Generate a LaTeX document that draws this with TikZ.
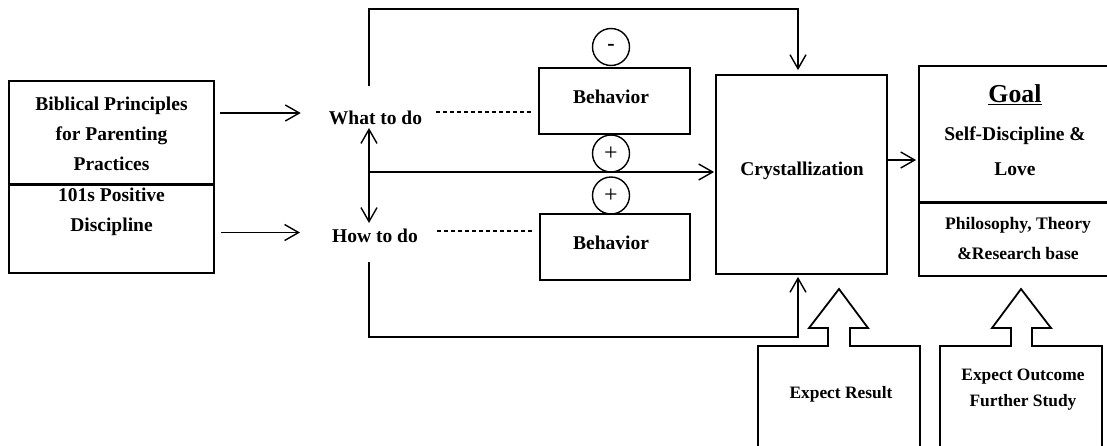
\documentclass[tikz,border=0pt]{standalone}
\usepackage{fontspec}
\setmainfont{Liberation Serif}
\usetikzlibrary{arrows.meta,calc}
\begin{document}
\begin{tikzpicture}[x=1pt,y=-1pt,
  boxline/.style={draw, line width=1.8pt, rectangle, inner sep=0pt},
  outline/.style={line width=1.8pt, line join=miter},
  lbl/.style={font=\bfseries\fontsize{19.5}{30}\selectfont, align=center, inner sep=0pt},
  conn/.style={line width=1.4pt},
  arr/.style={conn, -{Straight Barb[length=14pt,width=16pt,line width=1.4pt]}},
  dblarr/.style={conn, {Straight Barb[length=14pt,width=16pt,line width=1.4pt]}-{Straight Barb[length=14pt,width=16pt,line width=1.4pt]}},
  dashline/.style={line width=1.4pt, dash pattern=on 4pt off 3pt},
  sign/.style={draw, circle, line width=1.4pt, minimum size=37pt, inner sep=0pt}
]
\clip (0,0) rectangle (1107,445);

% source boxes on the left
\node[boxline, minimum width=205pt, minimum height=103pt] (bib) at (111.5,132.5) {};
\node[boxline, minimum width=205pt, minimum height=89pt] (pos) at (111.5,228.5) {};
\draw[line width=3pt] (bib.south west) -- (bib.south east);
\node[lbl] (bibT) at (111.5,133.5) {Biblical Principles\\for Parenting\\Practices};
\node[lbl] (posT) at (111.5,212) {101s Positive\\Discipline};

% what / how labels
\node[lbl] (what) at (375.5,118) {What to do};
\node[lbl] (how) at (375,236) {How to do};

\draw[arr] ($(bib.east)+(5,-19.5)$) coordinate (bibout) -- ($(bibout -| what.west)+(-28,0)$);
\draw[arr] ($(pos.east)+(6,4)$) coordinate (posout) -- ($(posout -| how.west)+(-32,0)$);

% behaviour boxes
\node[boxline, minimum width=151pt, minimum height=66pt] (beh1) at (614.5,101) {};
\node[lbl] (beh1T) at (611,97) {Behavior};
\node[boxline, minimum width=150pt, minimum height=66pt] (beh2) at (615,247) {};
\node[lbl] (beh2T) at (611,243) {Behavior};

\draw[dashline] ($(what.east)+(14,-6)$) coordinate (d1) -- ($(d1 -| beh1.west)+(-6,0)$);
\draw[dashline] ($(how.east)+(19,-5)$) coordinate (d2) -- ($(d2 -| beh2.west)+(-6,0)$);

% signs
\node[sign, font=\bfseries\fontsize{22}{22}\selectfont] (minus) at (611,47) {-};
\node[sign, font=\fontsize{24}{24}\selectfont] (plus1) at (611,153.5) {+};
\node[sign, font=\fontsize{24}{24}\selectfont] (plus2) at (611,195.5) {+};

% crystallization
\node[boxline, minimum width=171pt, minimum height=199pt] (cry) at (801.5,174.5) {};
\node[lbl] (cryT) at (802,171) {Crystallization};

% connectors around the central axis
\coordinate (vtop) at (369,128);
\coordinate (vbot) at (369,223);
\coordinate (vmid) at (369,172);
\coordinate (ftop) at (369,86);
\coordinate (fbot) at (369,262);
\draw[dblarr] (vtop) -- (vbot);
\draw[arr] (vmid) -- ($(vmid -| cry.west)+(-1,0)$);
\draw[arr] (ftop) |- ($(cry.north)+(-3.5,-65)$) -- ($(cry.north)+(-3.5,-4)$);
\draw[arr] (fbot) |- ($(cry.south)+(-3.5,62)$) -- ($(cry.south)+(-3.5,2)$);

% goal
\node[boxline, minimum width=192pt, minimum height=136pt] (goal) at (1015,134) {};
\node[boxline, minimum width=192pt, minimum height=74pt] (phil) at (1015,239) {};
\draw[line width=3pt] (goal.south west) -- (goal.south east);
\node[font=\bfseries\fontsize{25.8}{30}\selectfont, inner sep=0pt] (goalT) at (1015,95) {\underline{Goal}};
\node[lbl, font=\bfseries\fontsize{19.5}{35}\selectfont] (sd) at (1015,151.5) {Self-Discipline \&\\Love};
\node[lbl, font=\bfseries\fontsize{17.6}{30}\selectfont] (philT) at (1018,238) {Philosophy, Theory\\\&Research base};

\draw[arr] ($(cry.east)+(0,-14.5)$) coordinate (cryout) -- ($(cryout -| goal.west)+(-2,0)$);

% expectation boxes with hollow up arrows
\draw[outline] (758,450) -- (758,346) -- (828,346) -- (828,328) -- (809,328) -- (839,289)
  -- (868,328) -- (850,328) -- (850,346) -- (920,346) -- (920,450);
\node[lbl, font=\bfseries\fontsize{17.4}{26}\selectfont] (res) at (841,394) {Expect Result};
\draw[outline] (940,450) -- (940,346) -- (1011,346) -- (1011,328) -- (992,328) -- (1021,289)
  -- (1051,328) -- (1032,328) -- (1032,346) -- (1102,346) -- (1102,450);
\node[lbl, font=\bfseries\fontsize{17.4}{26}\selectfont] (outc) at (1023,390) {Expect Outcome\\Further Study};
\end{tikzpicture}
\end{document}
